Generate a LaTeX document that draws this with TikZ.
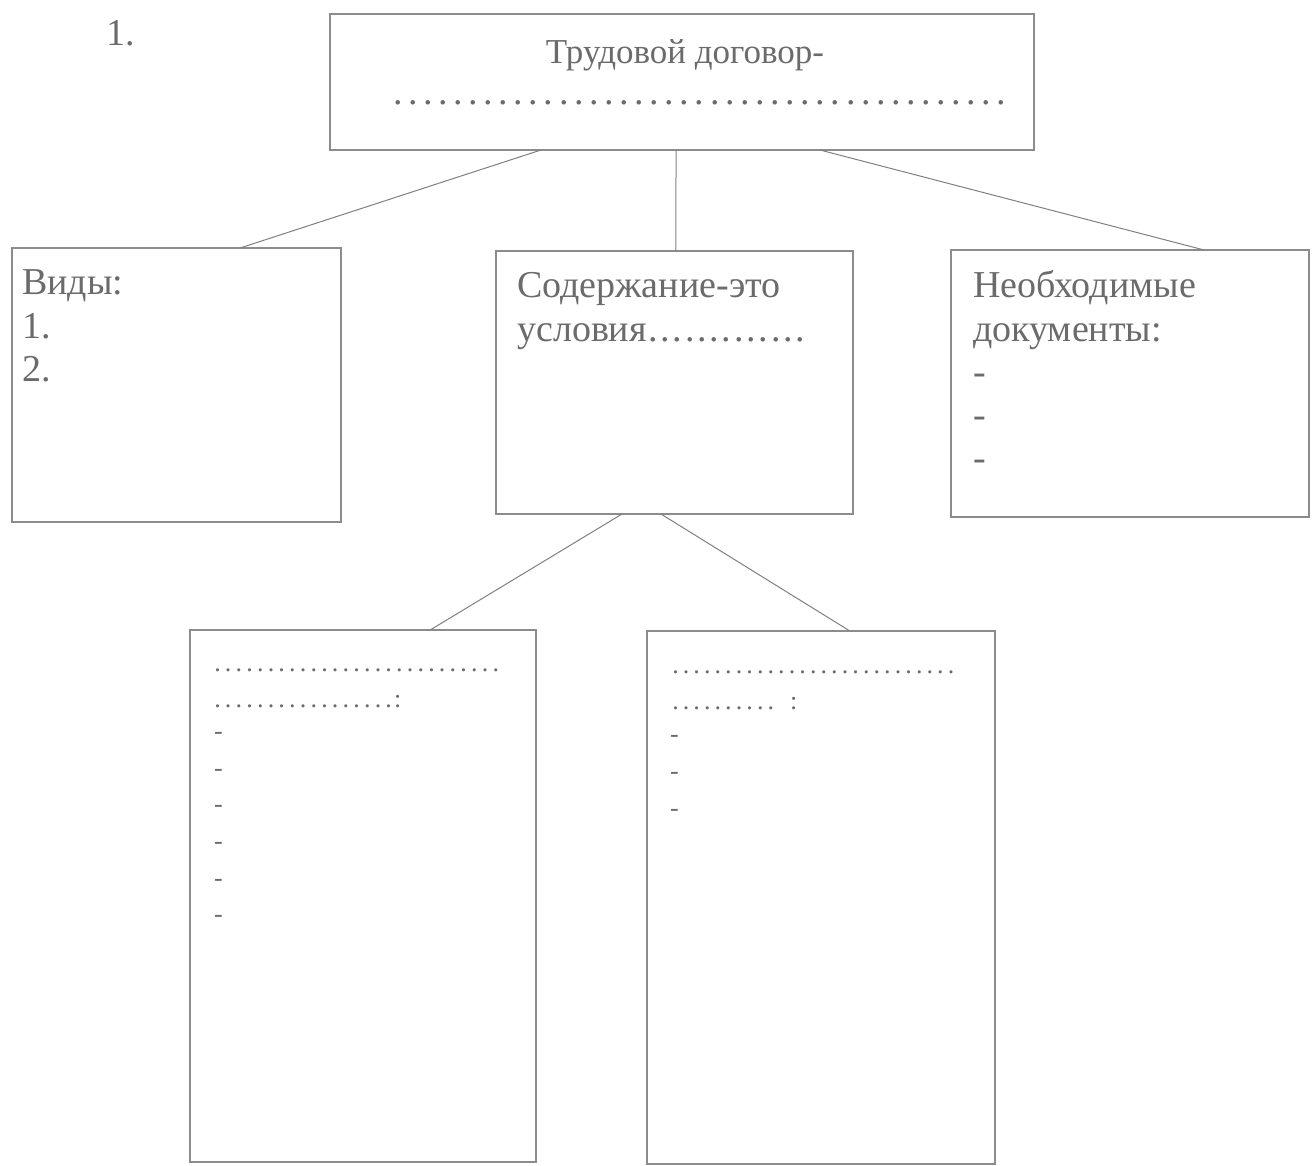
\documentclass[tikz,border=0pt]{standalone}
\usepackage{fontspec}
\setmainfont{Liberation Serif}
\usetikzlibrary{calc}
\newcommand{\drow}[2]{\hbox{\count255=0 \loop\hbox to #2{\hss.\hss}\advance\count255 by 1 \ifnum\count255<#1\repeat}}
\begin{document}
\begin{tikzpicture}[x=1pt,y=-1pt,
  box/.style={draw=black!45, line width=1.1pt, inner sep=0pt, outer sep=0pt, anchor=north west},
  link/.style={draw=black!50, line width=1pt},
  txt/.style={anchor=base west, inner sep=0pt, text=black!58, font=\fontsize{38}{44}\selectfont},
  ttl/.style={anchor=base, inner sep=0pt, text=black!58, font=\fontsize{35}{40}\selectfont},
  sm/.style={anchor=base west, inner sep=0pt, text=black!58, font=\fontsize{26}{30}\selectfont}]
\useasboundingbox[fill=white] (0,0) rectangle (1312,1165);
% boxes
\node[box, minimum width=704pt, minimum height=136pt] (top) at (330,14) {};
\node[box, minimum width=329pt, minimum height=274pt] (vidy) at (12,248) {};
\node[box, minimum width=357pt, minimum height=263pt] (sod) at (496,251) {};
\node[box, minimum width=358pt, minimum height=267pt] (doc) at (951,250) {};
\node[box, minimum width=346pt, minimum height=532pt] (bl) at (190,630) {};
\node[box, minimum width=348pt, minimum height=533pt] (br) at (647,631) {};
% connectors
\draw[link] ($(top.south west)!0.2997!(top.south east)$) -- ($(vidy.north west)!0.693!(vidy.north east)$);
\draw[link] ($(top.south west)!0.4915!(top.south east)$) -- ($(sod.north west)!0.504!(sod.north east)$);
\draw[link] ($(top.south west)!0.696!(top.south east)$) -- ($(doc.north west)!0.707!(doc.north east)$);
\draw[link] ($(sod.south west)!0.353!(sod.south east)$) -- ($(bl.north west)!0.694!(bl.north east)$);
\draw[link] ($(sod.south west)!0.462!(sod.south east)$) -- ($(br.north west)!0.583!(br.north east)$);
% texts
\node[txt] (num) at (106,45) {1.};
\node[ttl] (t1) at (685,63) {Трудовой договор-};
\node[txt] (t2) at (390,104) {\drow{41}{15.1pt}};
\node[txt] (v1) at (22,294) {Виды:};
\node[txt] (v2) at (22,338) {1.};
\node[txt] (v3) at (22,381) {2.};
\node[txt] (s1) at (517,297) {Содержание-это};
\node[txt] (s2) at (517,341) {условия\drow{13}{12.3pt}};
\node[txt] (d1) at (973,297) {Необходимые};
\node[txt] (d2) at (973,341) {документы:};
\node[txt] (d3) at (973,384) {-};
\node[txt] (d4) at (973,427) {-};
\node[txt] (d5) at (973,470) {-};
\node[sm] (a1) at (212,671) {\drow{27}{10.7pt}};
\node[sm] (a2) at (212,707) {\drow{17}{10.7pt}:};
\node[sm] (a3) at (214,739) {-};
\node[sm] (a4) at (214,776) {-};
\node[sm] (a5) at (214,812) {-};
\node[sm] (a6) at (214,849) {-};
\node[sm] (a7) at (214,886) {-};
\node[sm] (a8) at (214,922) {-};
\node[sm] (b1) at (670,673) {\drow{27}{10.6pt}};
\node[sm] (b2) at (670,709) {\drow{10}{10.6pt}\hspace{14pt}:};
\node[sm] (b3) at (670,742) {-};
\node[sm] (b4) at (670,779) {-};
\node[sm] (b5) at (670,816) {-};
\end{tikzpicture}
\end{document}
